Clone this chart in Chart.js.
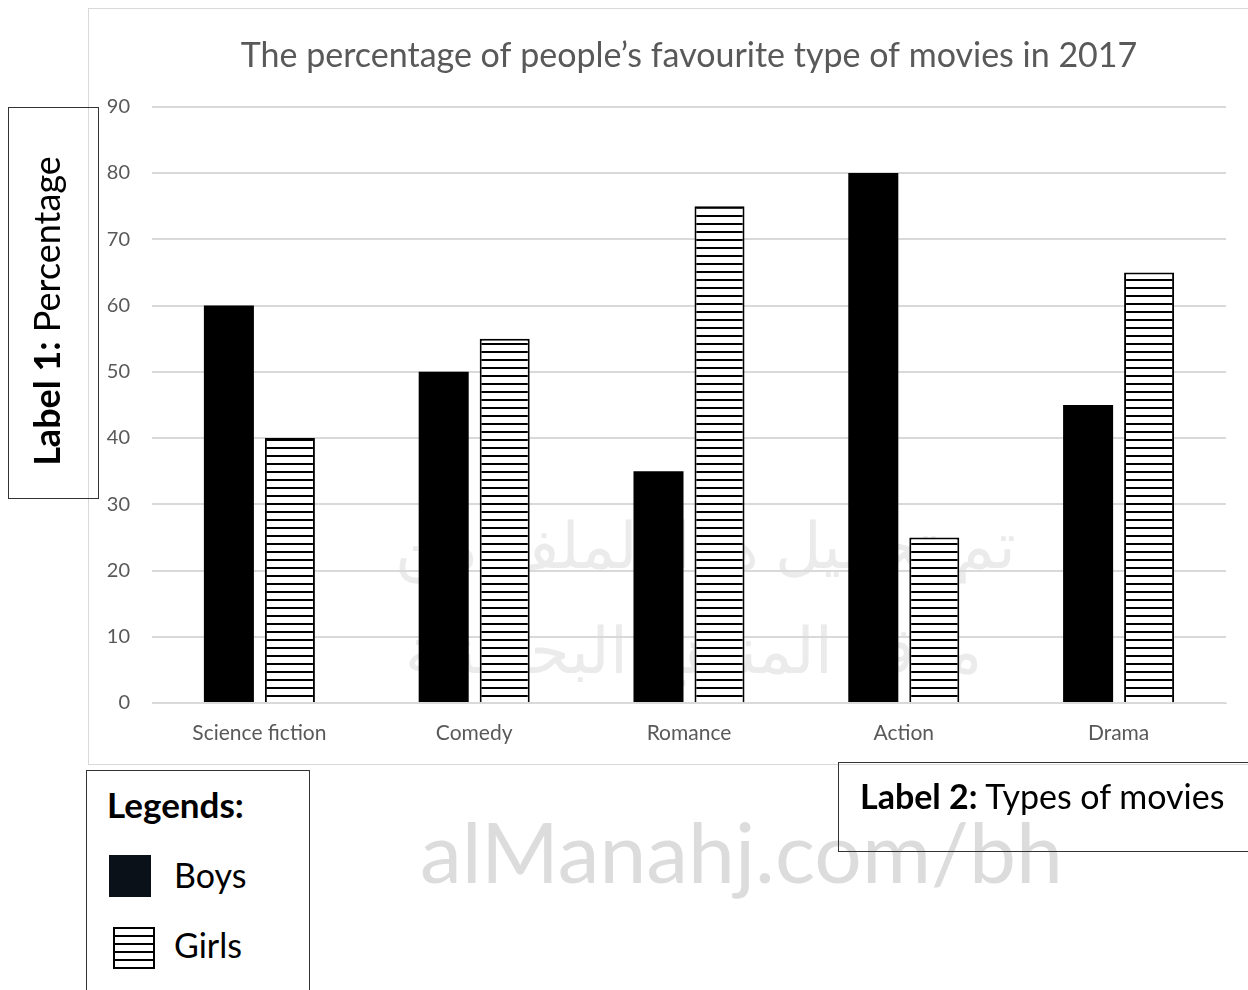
<!DOCTYPE html>
<html>
<head>
<meta charset="utf-8">
<script src="https://cdn.jsdelivr.net/npm/chart.js@4.4.0/dist/chart.umd.min.js"></script>
<style>
  body { margin: 0; width: 1248px; height: 990px; background: #fff; position: relative; overflow: hidden; font-family: Lato, "Open Sans", sans-serif; }
  .wm { position: absolute; color: #ebebeb; white-space: nowrap; z-index: 0; }
  #chartBox { position: absolute; left: 88px; top: 8px; width: 1160px; height: 757px; border: 1px solid #d9d9d9; border-right: none; box-sizing: border-box; z-index: 1; }
  .box { position: absolute; border: 1px solid #333; z-index: 2; color: #000; }
  #label1 { left: 8px; top: 107px; width: 89px; height: 390px; }
  #label1 span { position: absolute; left: 37px; top: 203px; transform: translate(-50%, -50%) rotate(-90deg); font-size: 36px; white-space: nowrap; }
  #label2 { left: 838px; top: 762px; width: 420px; height: 88px; }
  #label2 span { position: absolute; left: 21px; top: 12px; font-size: 34px; white-space: nowrap; }
  #legend { left: 86px; top: 770px; width: 222px; height: 230px; }
  .swatch { position: absolute; width: 42px; height: 42px; box-sizing: border-box; }
  .lgtxt { position: absolute; font-size: 34px; }
</style>
</head>
<body>
<div class="wm" style="left:395px; top:505px; font-size:64px;">تم تحميل هذا الملف من</div>
<div class="wm" style="left:405px; top:610px; font-size:64px;">موقع المناهج البحرينية</div>
<div class="wm" style="left:420px; top:800px; font-size:84px; color:#dcdcdc;">alManahj.com/bh</div>

<div id="chartBox"><canvas id="c"></canvas></div>

<div class="box" id="label1"><span><b>Label 1:</b> Percentage</span></div>
<div class="box" id="label2"><span><b>Label 2:</b> Types of movies</span></div>
<div class="box" id="legend">
  <div style="position:absolute; left:20px; top:12px; font-size:35px; font-weight:bold;">Legends:</div>
  <div class="swatch" style="left:22px; top:84px; background:#0a1119;"></div>
  <div class="lgtxt" style="left:87px; top:83px;">Boys</div>
  <div class="swatch" style="left:26px; top:156px; border:2px solid #000; background:repeating-linear-gradient(to bottom, #fff 0 6px, #000 6px 8px);"></div>
  <div class="lgtxt" style="left:87px; top:153px;">Girls</div>
</div>

<script>
const categories = ["Science fiction", "Comedy", "Romance", "Action", "Drama"];
const boys = [60, 50, 35, 80, 45];
const girls = [40, 55, 75, 25, 65];
const yTicks = [0, 10, 20, 30, 40, 50, 60, 70, 80, 90];

// horizontal line hatching for the girls bars
function makeHatch() {
  const p = document.createElement("canvas");
  p.width = 8; p.height = 8;
  const g = p.getContext("2d");
  g.fillStyle = "#fff";
  g.fillRect(0, 0, 8, 8);
  g.fillStyle = "#000";
  g.fillRect(0, 6, 8, 2);
  return g.createPattern(p, "repeat");
}

const canvas = document.getElementById("c");
canvas.width = 1159; canvas.height = 756;
canvas.style.width = "1159px"; canvas.style.height = "756px";
const hatch = makeHatch();

new Chart(canvas, {
  type: "bar",
  data: {
    labels: categories,
    datasets: [
      { label: "Boys", data: boys, backgroundColor: "#000", borderWidth: 0,
        categoryPercentage: 0.568, barPercentage: 0.82 },
      { label: "Girls", data: girls, backgroundColor: hatch, borderColor: "#000", borderWidth: 2,
        categoryPercentage: 0.568, barPercentage: 0.82 }
    ]
  },
  options: {
    responsive: false,
    animation: false,
    layout: { padding: { left: 0, right: 22, top: 0, bottom: 0 } },
    plugins: {
      legend: { display: false },
      tooltip: { enabled: false },
      title: {
        display: true,
        fullSize: false,
        text: "The percentage of people\u2019s favourite type of movies in 2017",
        color: "#595959",
        font: { family: "Lato", size: 34, weight: "normal" },
        padding: { top: 27, bottom: 30 }
      }
    },
    scales: {
      x: {
        grid: { display: false, drawTicks: false },
        border: { display: true, color: "#d9d9d9", width: 1 },
        ticks: { color: "#595959", font: { family: "Lato", size: 21 }, padding: 18 },
        afterFit: s => { s.height = 62; }
      },
      y: {
        min: 0, max: 90,
        afterBuildTicks: s => { s.ticks = yTicks.map(v => ({ value: v })); },
        grid: { color: "#d9d9d9", lineWidth: 2, drawTicks: false },
        border: { display: false },
        ticks: { color: "#595959", font: { family: "Lato", size: 20 }, padding: 22 },
        afterFit: s => { s.width = 63; }
      }
    }
  }
});
</script>
</body>
</html>
